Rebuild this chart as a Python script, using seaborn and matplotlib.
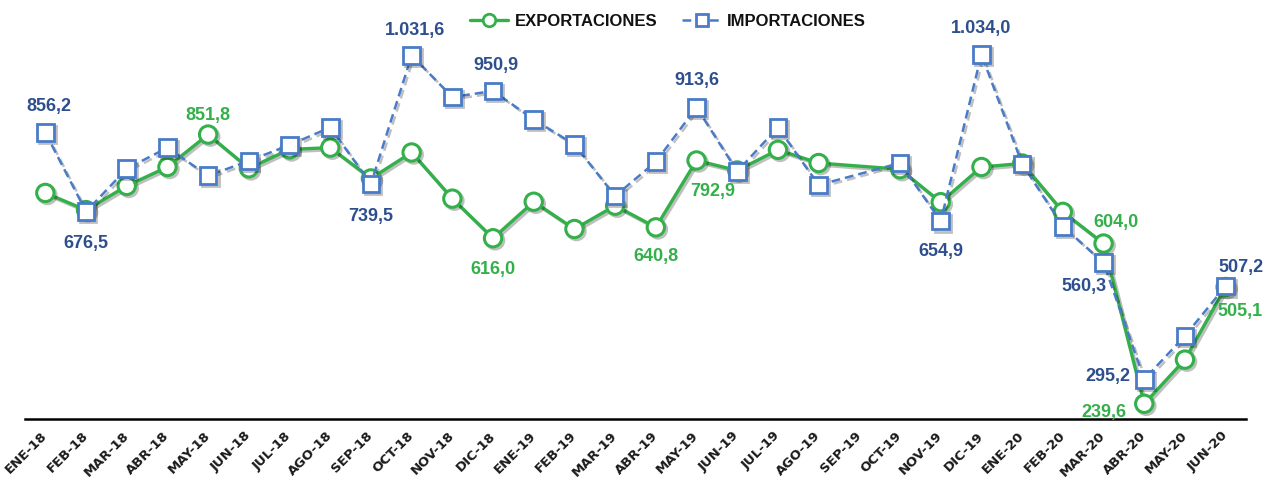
import numpy as np
import pandas as pd
import matplotlib.pyplot as plt
import matplotlib.patheffects as pe
from matplotlib.lines import Line2D
import seaborn as sns

# Monthly data, one value per month (SEP-19 has no data point)
months = ["ENE-18", "FEB-18", "MAR-18", "ABR-18", "MAY-18", "JUN-18", "JUL-18", "AGO-18",
          "SEP-18", "OCT-18", "NOV-18", "DIC-18", "ENE-19", "FEB-19", "MAR-19", "ABR-19",
          "MAY-19", "JUN-19", "JUL-19", "AGO-19", "SEP-19", "OCT-19", "NOV-19", "DIC-19",
          "ENE-20", "FEB-20", "MAR-20", "ABR-20", "MAY-20", "JUN-20"]
exportaciones = [719, 680, 735, 778, 851.8, 775, 818, 822, 752, 811, 706, 616.0, 699, 637, 690,
                 640.8, 792.9, 770, 817, 787, np.nan, 773, 698, 778, 786, 676, 604.0, 239.6,
                 340, 505.1]
importaciones = [856.2, 676.5, 774, 822, 758, 792, 828, 868, 739.5, 1031.6, 937, 950.9, 886,
                 829, 712, 790, 913.6, 768, 868, 737, np.nan, 787, 654.9, 1034.0, 785, 643,
                 560.3, 295.2, 394, 507.2]

# months that carry a data label
exp_labeled = [4, 11, 15, 16, 26, 27, 29]
imp_labeled = [0, 1, 8, 9, 11, 16, 22, 23, 26, 27, 29]

# label offsets in pixels (dx, dy down) relative to the point
exp_offsets = {4: (0, -20), 11: (0, 30), 15: (0, 28), 16: (16, 30),
               26: (12, -22), 27: (-40, 8), 29: (14, 23)}
imp_offsets = {0: (4, -27), 1: (0, 31), 8: (0, 32), 9: (3, -26), 11: (3, -26),
               16: (0, -28), 22: (0, 29), 23: (0, -27), 26: (-20, 23), 27: (-36, -4),
               29: (15, -20)}

GREEN = "#33B04A"
BLUE = "#4A7BC8"
DARK_BLUE = "#2D4F8E"


def fmt(v):
    s = f"{v:,.1f}"
    return s.replace(",", "X").replace(".", ",").replace("X", ".")


df = pd.DataFrame({"x": np.arange(len(months)), "exp": exportaciones, "imp": importaciones})

sns.set_style("white")
plt.rcParams["font.family"] = ["Liberation Sans", "DejaVu Sans"]

fig = plt.figure(figsize=(12.65, 4.81), dpi=100)
ax = fig.add_axes([25 / 1265, 61 / 481, 1221 / 1265, 420 / 481])

shadow = [pe.SimpleLineShadow(offset=(1.5, -1.5), shadow_color="black", alpha=0.25), pe.Normal()]

sns.lineplot(data=df.dropna(subset=["exp"]), x="x", y="exp", ax=ax, color=GREEN, linewidth=2.4,
             marker="o", markersize=12.5, markerfacecolor="white", markeredgecolor=GREEN,
             markeredgewidth=2.2, errorbar=None, zorder=3, clip_on=False, path_effects=shadow)
sns.lineplot(data=df.dropna(subset=["imp"]), x="x", y="imp", ax=ax, color=BLUE, linewidth=1.8,
             linestyle="--", marker="s", markersize=12, markerfacecolor="white",
             markeredgecolor=BLUE, markeredgewidth=2.0, errorbar=None, zorder=4, clip_on=False,
             path_effects=shadow)
ax.lines[1].set_dashes([3.5, 2.0])

for i in exp_labeled:
    dx, dy = exp_offsets[i]
    ax.annotate(fmt(exportaciones[i]), (i, exportaciones[i]), xytext=(dx * 0.72, -dy * 0.72),
                textcoords="offset points", ha="center", va="center", fontsize=13,
                fontweight="bold", color=GREEN, zorder=6)
for i in imp_labeled:
    dx, dy = imp_offsets[i]
    ax.annotate(fmt(importaciones[i]), (i, importaciones[i]), xytext=(dx * 0.72, -dy * 0.72),
                textcoords="offset points", ha="center", va="center", fontsize=13,
                fontweight="bold", color=DARK_BLUE, zorder=6)

ax.set_xlim(-0.5, len(months) - 0.5)
ax.set_ylim(205, 1160)
ax.set_xlabel("")
ax.set_ylabel("")
ax.set_yticks([])

ax.set_xticks(np.arange(len(months)))
ax.set_xticklabels(months, rotation=45, ha="right", va="center", rotation_mode="anchor",
                   fontsize=9.5, fontweight="bold", color="#1a1a1a",
                   family=["DejaVu Sans"])
ax.set_xticks(np.arange(len(months) + 1) - 0.5, minor=True)
ax.tick_params(axis="x", which="major", length=0, pad=10)
ax.tick_params(axis="x", which="minor", length=5, width=1.5, color="black", direction="out")

for side in ["left", "right", "top"]:
    ax.spines[side].set_visible(False)
ax.spines["bottom"].set_color("black")
ax.spines["bottom"].set_linewidth(1.8)

handles = [
    Line2D([], [], color=GREEN, linewidth=2.4, marker="o", markersize=9,
           markerfacecolor="white", markeredgecolor=GREEN, markeredgewidth=2.0),
    Line2D([], [], color=BLUE, linewidth=1.8, linestyle=(0, (3.5, 2.0)), marker="s",
           markersize=9, markerfacecolor="white", markeredgecolor=BLUE, markeredgewidth=2.0),
]
leg = fig.legend(handles, ["EXPORTACIONES", "IMPORTACIONES"], loc="center",
                 bbox_to_anchor=(668 / 1265, 1 - 22 / 481), ncol=2, frameon=False,
                 handlelength=2.3, handletextpad=0.4, columnspacing=1.5,
                 prop={"size": 12, "weight": "bold"})
for t in leg.get_texts():
    t.set_color("#111111")

fig.savefig("out.png", dpi=100, facecolor="white")
